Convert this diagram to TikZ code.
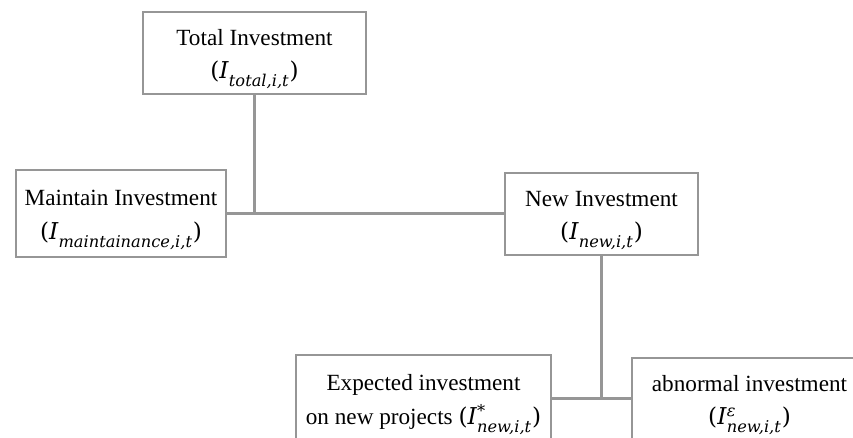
\documentclass[tikz,border=0pt]{standalone}
\usepackage{fontspec}
\setmainfont{Liberation Serif}
\newfontfamily\mathlike{DejaVu Serif}
\usepackage{amsmath, amssymb}
\usepackage{tikz}
\usetikzlibrary{positioning}
\definecolor{linegray}{RGB}{150,150,150}
% variable symbol I with superscript and subscript
\newcommand{\Ivar}[2]{{\mathlike(\textit{I}$^{\text{\mathlike\itshape #1}}_{\text{\mathlike\itshape #2}}$)}}
% taller first line, pushes the text down in its box
\newcommand{\tallstrut}{\rule{0pt}{16pt}}

\begin{document}
\begin{tikzpicture}[
    invbox/.style={rectangle, draw=linegray, line width=1.4pt, fill=white, font=\fontsize{13.2}{19}\selectfont, align=center, inner sep=0pt},
    link/.style={draw=linegray, line width=1.4pt}
]
\useasboundingbox (0,0) rectangle (17.06,-8.74);

\node[invbox, minimum width=4.46cm, minimum height=1.64cm] (total) at (5.09,-1.06) {\tallstrut Total Investment\\\Ivar{}{total,i,t}};
\node[invbox, minimum width=4.2cm, minimum height=1.74cm] (maint) at (2.42,-4.27) {\tallstrut Maintain Investment\\\Ivar{}{maintainance,i,t}};
\node[invbox, minimum width=3.86cm, minimum height=1.64cm] (new) at (12.03,-4.28) {\tallstrut New Investment\\\Ivar{}{new,i,t}};
\node[invbox, minimum width=5.1cm, minimum height=1.74cm] (expect) at (8.47,-7.97) {\tallstrut Expected investment\\on new projects \Ivar{*}{new,i,t}};
\node[invbox, minimum width=4.7cm, minimum height=1.64cm] (abnorm) at (14.99,-7.98) {\tallstrut abnormal investment\\\Ivar{ε}{new,i,t}};

\draw[link] (maint.east) -- (maint.east -| new.west);
\draw[link] (total.south) -- (total.south |- maint.east);
\draw[link] (expect.east) -- (expect.east -| abnorm.west);
\draw[link] (new.south) -- (new.south |- expect.east);

\end{tikzpicture}
\end{document}
